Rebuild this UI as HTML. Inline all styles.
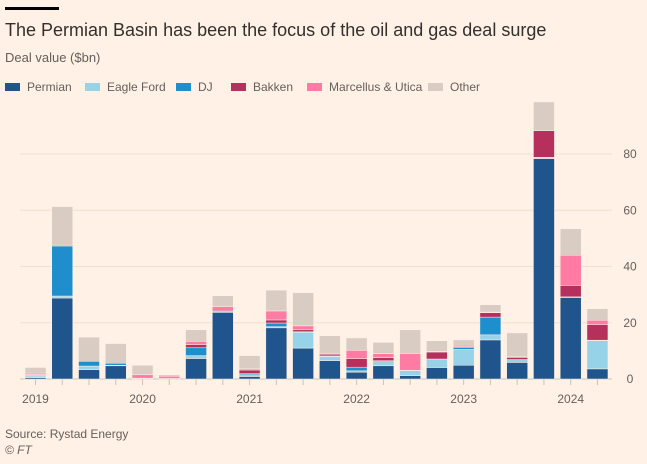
<!DOCTYPE html>
<html><head><meta charset="utf-8"><style>
body{margin:0;background:#fff1e5;font-family:"Liberation Sans",sans-serif;}
#wrap{position:relative;width:647px;height:464px;overflow:hidden;background:#fff1e5}
.t{position:absolute;white-space:nowrap}
</style></head><body>
<div id="wrap">
<div class="t" style="left:5px;top:7px;width:54px;height:3px;background:#000"></div>
<div class="t" style="left:5px;top:20px;font-size:18px;color:#33302e">The Permian Basin has been the focus of the oil and gas deal surge</div>
<div class="t" style="left:5px;top:50px;font-size:13px;color:#66605c">Deal value ($bn)</div>
<svg id="chart" width="647" height="464" style="position:absolute;left:0;top:0"></svg>
<div class="t" style="left:5px;top:427px;font-size:12px;color:#66605c">Source: Rystad Energy</div>
<div class="t" style="left:5px;top:443px;font-size:12px;font-style:italic;color:#66605c">© FT</div>
</div>
<script>
const quarters=["2019Q1","2019Q2","2019Q3","2019Q4","2020Q1","2020Q2","2020Q3","2020Q4","2021Q1","2021Q2","2021Q3","2021Q4","2022Q1","2022Q2","2022Q3","2022Q4","2023Q1","2023Q2","2023Q3","2023Q4","2024Q1","2024Q2"];
const permian=[0.5,28.8,3.3,4.7,0.2,0.2,7.3,23.7,0.9,18.2,11.0,6.5,2.4,4.7,1.2,4.1,4.9,13.9,5.9,78.4,29.0,3.6];
const eagleFord=[0.6,0.7,1.3,0.2,0,0,1.0,0.3,0.6,0.4,5.6,1.5,0.5,1.5,1.8,3.0,5.6,1.8,1.0,0.2,0.2,10.0];
const dj=[0.3,17.8,1.7,0.7,0,0,2.8,0.3,0.4,1.3,0.2,0.2,1.3,0.3,0.1,0,0.7,6.3,0,0.2,0,0.2];
const bakken=[0.2,0.3,0,0,0.1,0,1.1,0.5,1.3,1.1,0.7,0.6,3.0,1.1,0,2.5,0.3,1.6,0.8,9.5,4.1,5.5];
const marcellus=[0.5,0,0,0,1.2,0.8,1.2,0.9,0.4,3.2,1.4,0.3,3.0,1.4,6.0,0.2,0.5,0.2,0.2,0,10.7,1.6];
const other=[2.0,13.7,8.6,7.0,3.4,0.5,4.1,3.9,4.7,7.4,11.8,6.3,4.4,4.0,8.4,3.8,1.9,2.6,8.5,10.2,9.4,4.1];
const yTicks=[0,20,40,60,80];
const years=["2019","2020","2021","2022","2023","2024"];
const series=[["permian",permian,"#1f558c"],["eagle-ford",eagleFord,"#96d2e8"],["dj",dj,"#1e8fcc"],["bakken",bakken,"#b5305c"],["marcellus-utica",marcellus,"#ff7ba4"],["other",other,"#d9ccc3"]];
const legendNames=["Permian","Eagle Ford","DJ","Bakken","Marcellus & Utica","Other"];
const legendX=[5,85,176,231,307,428];
const NS="http://www.w3.org/2000/svg";
const svg=document.getElementById('chart');
const y0=379, pxPer=225/80, x0=35.5, step=26.76, bw=21;
const yS=v=>y0-v*pxPer;
const xS=i=>x0+i*step;
function mk(t,a){const e=document.createElementNS(NS,t);for(const k in a)e.setAttribute(k,a[k]);svg.appendChild(e);return e;}
yTicks.forEach(v=>{
  const g=mk('line',{x1:20,x2:612,y1:yS(v),y2:yS(v),stroke:v===0?'#ccc1b7':'#f2dfce','stroke-width':1});
  
  
  const t=mk('text',{x:630,y:yS(v)+4,'font-size':12,fill:'#66605c','text-anchor':'middle','font-family':'Liberation Sans'});
  t.textContent=v;
  
  
});
quarters.forEach((q,i)=>{
  const tk=mk('line',{x1:xS(i),x2:xS(i),y1:y0,y2:y0+6,stroke:'#ccc1b7'});
  
  
  let acc=0;
  series.forEach(([n,arr,c])=>{
    const v=arr[i]; if(!v) return;
    const r=mk('rect',{x:xS(i)-bw/2,y:yS(acc+v),width:bw,height:v*pxPer,fill:c,stroke:'#fff1e5','stroke-width':0.5});
    
    
    acc+=v;
  });
});
years.forEach((y,k)=>{
  const t=mk('text',{x:xS(k*4),y:403,'font-size':12,fill:'#66605c','text-anchor':'middle','font-family':'Liberation Sans'});
  t.textContent=y;
  
  
});
series.forEach(([n,arr,c],k)=>{
  const r=mk('rect',{x:legendX[k],y:83,width:15,height:8,fill:c});
  
  
  const t=mk('text',{x:legendX[k]+22,y:91,'font-size':12,fill:'#66605c','font-family':'Liberation Sans'});
  t.textContent=legendNames[k];
  
  
});
</script>
</body></html>
